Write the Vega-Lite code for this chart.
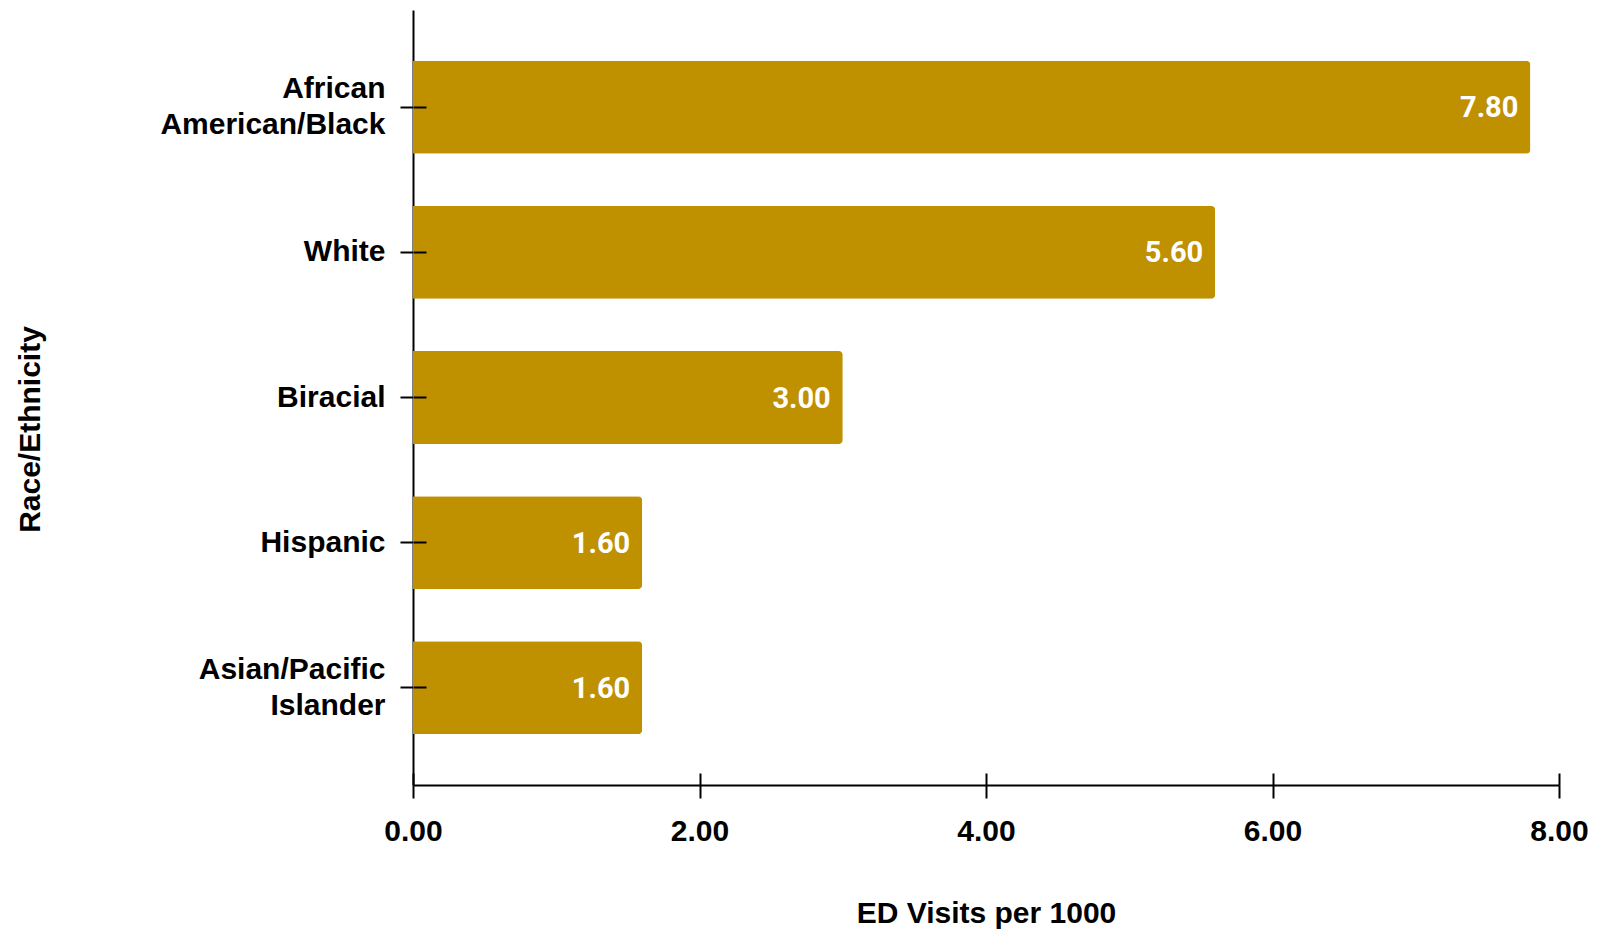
{
  "$schema": "https://vega.github.io/schema/vega-lite/v6.json",
  "autosize": {"type": "none"},
  "width": 1146,
  "height": 775,
  "padding": {"left": 413, "top": 10, "right": 44, "bottom": 144},
  "background": "white",
  "config": {"view": {"stroke": null}},
  "data": {
    "values": [
      {"group": "African American/Black", "visits": 7.8},
      {"group": "White", "visits": 5.6},
      {"group": "Biracial", "visits": 3.0},
      {"group": "Hispanic", "visits": 1.6},
      {"group": "Asian/Pacific Islander", "visits": 1.6}
    ]
  },
  "encoding": {
    "y": {
      "field": "group",
      "type": "nominal",
      "sort": ["African American/Black", "White", "Biracial", "Hispanic", "Asian/Pacific Islander"],
      "scale": {"paddingInner": 0.36, "paddingOuter": 0.35}
    },
    "x": {
      "field": "visits",
      "type": "quantitative",
      "scale": {"domain": [0, 8], "nice": false}
    }
  },
  "layer": [
    {
      "mark": {"type": "bar", "color": "#BF9000", "cornerRadiusEnd": 4},
      "encoding": {
        "y": {
          "field": "group",
          "type": "nominal",
          "sort": ["African American/Black", "White", "Biracial", "Hispanic", "Asian/Pacific Islander"],
          "axis": {
            "orient": "left",
            "title": "Race/Ethnicity",
            "titleFont": "Liberation Sans",
            "titleFontSize": 30,
            "titleFontWeight": "bold",
            "titleColor": "black",
            "titleAngle": 270,
            "titleAlign": "center",
            "titleBaseline": "middle",
            "titleX": -383,
            "titleY": 419,
            "labelFont": "Liberation Sans",
            "labelFontSize": 30,
            "labelFontWeight": "bold",
            "labelColor": "black",
            "labelLineHeight": 36,
            "labelPadding": 15,
            "labelLimit": 400,
            "labelOffset": {"condition": {"test": "datum.value == 'African American/Black' || datum.value == 'Asian/Pacific Islander'", "value": -18}, "value": 0},
            "labelExpr": "datum.value == 'African American/Black' ? ['African', 'American/Black'] : datum.value == 'Asian/Pacific Islander' ? ['Asian/Pacific', 'Islander'] : datum.value",
            "domain": true,
            "domainColor": "black",
            "domainWidth": 2,
            "ticks": true,
            "tickSize": 13,
            "tickColor": "black",
            "tickWidth": 2,
            "grid": false
          }
        },
        "x": {
          "field": "visits",
          "type": "quantitative",
          "scale": {"domain": [0, 8], "nice": false},
          "axis": {
            "orient": "bottom",
            "values": [0, 2, 4, 6, 8],
            "format": ".2f",
            "title": "ED Visits per 1000",
            "titleFont": "Liberation Sans",
            "titleFontSize": 30,
            "titleFontWeight": "bold",
            "titleColor": "black",
            "titleY": 113,
            "titleBaseline": "top",
            "labelFont": "Liberation Sans",
            "labelFontSize": 30,
            "labelFontWeight": "bold",
            "labelColor": "black",
            "labelPadding": 18,
            "labelFlush": false,
            "domain": true,
            "domainColor": "black",
            "domainWidth": 2,
            "ticks": true,
            "tickSize": 13,
            "tickColor": "black",
            "tickWidth": 2,
            "grid": false
          }
        }
      }
    },
    {
      "mark": {"type": "text", "align": "right", "baseline": "middle", "dx": -12, "dy": 1, "color": "white", "font": "Roboto", "fontSize": 29, "fontWeight": "bold"},
      "encoding": {
        "text": {"field": "visits", "type": "quantitative", "format": ".2f"},
        "y": {
          "field": "group",
          "type": "nominal",
          "sort": ["African American/Black", "White", "Biracial", "Hispanic", "Asian/Pacific Islander"],
          "axis": {
            "orient": "left",
            "offset": -13,
            "zindex": 1,
            "title": null,
            "labels": false,
            "domain": false,
            "ticks": true,
            "tickSize": 13,
            "tickColor": "black",
            "tickWidth": 2,
            "grid": false
          }
        },
        "x": {
          "field": "visits",
          "type": "quantitative",
          "scale": {"domain": [0, 8], "nice": false},
          "axis": {
            "orient": "bottom",
            "offset": -12,
            "zindex": 1,
            "values": [0, 2, 4, 6, 8],
            "title": null,
            "labels": false,
            "domain": false,
            "ticks": true,
            "tickSize": 12,
            "tickColor": "black",
            "tickWidth": 2,
            "grid": false
          }
        }
      }
    }
  ],
  "resolve": {"axis": {"x": "independent", "y": "independent"}}
}
